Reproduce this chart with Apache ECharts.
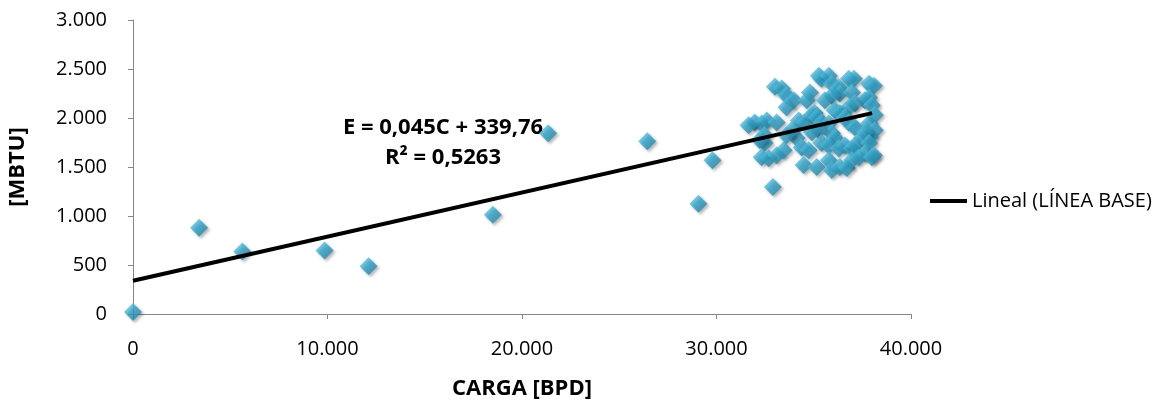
<!DOCTYPE html>
<html lang="es" style="height: 100%">
<head>
  <meta charset="UTF-8">
  <title>Carga vs MBTU</title>
  <script src="https://cdn.jsdelivr.net/npm/echarts@6/dist/echarts.min.js"></script>
</head>
<body style="height: 100%; margin: 0">
<div id="container" style="width: 1167px; height: 404px; background: #fff"></div>

<script type="text/javascript">
  // CARGA [BPD]
  var carga = [
    0, 3400, 5620, 9850, 12110, 18500, 21340, 26440, 29070, 29790, 32900,
    33000, 33350, 33600, 33970, 33600, 34800, 34640, 35260, 35400, 35770, 35930,
    36290, 36340, 36800, 37060, 36960, 37840, 38090, 37840, 37630, 35930, 35570,
    37110, 36800, 37990, 35050, 36080, 36340, 31960, 32320, 32580, 33090, 34230,
    34540, 34900, 35150, 35400, 35770, 36600, 36800, 37110, 37840, 38140, 38140,
    37890, 37630, 37470, 35930, 36080, 35260, 34900, 34120, 33860, 32470, 32470,
    32220, 34380, 34740, 35400, 35770, 36290, 36600, 36960, 37110, 37840, 38090,
    32320, 32680, 33090, 33450, 34480, 35150, 35770, 35930, 36340, 36700, 36960,
    37320, 37630, 37990, 31650, 33600
  ];
  // [MBTU]
  var mbtu = [
    20, 881, 638, 648, 486, 1013, 1844, 1763, 1125, 1570, 1297,
    2320, 2300, 2230, 2180, 2110, 2260, 2180, 2430, 2400, 2430, 2350,
    2310, 2250, 2400, 2400, 2260, 2350, 2330, 2210, 2180, 2230, 2180,
    2150, 2110, 2130, 2050, 2080, 2050, 1955, 1945, 1975, 1955, 1975,
    1955, 2030, 2005, 1955, 1945, 2005, 1955, 1905, 1945, 2030, 1875,
    1805, 1855, 1795, 1845, 1795, 1875, 1855, 1795, 1875, 1825, 1745,
    1775, 1700, 1670, 1745, 1720, 1690, 1720, 1690, 1720, 1745, 1620,
    1600, 1590, 1620, 1670, 1520, 1500, 1570, 1470, 1500, 1490, 1570,
    1600, 1640, 1600, 1925, 1825
  ];
  // Lineal (LÍNEA BASE): E = 0,045C + 339,76
  var trendX = [0, 38000];
  var trendY = [340, 2050];
  var equation = ['E = 0,045C + 339,76', 'R² = 0,5263'];

  var points = carga.map(function (c, i) { return [c, mbtu[i]]; });
  var trend = trendX.map(function (c, i) { return [c, trendY[i]]; });

  function miles(v) {
    return String(v).replace(/\B(?=(\d{3})+(?!\d))/g, '.');
  }

  var chart = echarts.init(document.getElementById('container'), null, { renderer: 'canvas' });
  var font = '"Open Sans", sans-serif';

  var option = {
    animation: false,
    textStyle: { fontFamily: font },
    grid: { left: 133, right: 256, top: 20, bottom: 90, outerBoundsMode: 'none', containLabel: false },
    legend: {
      data: ['Lineal (LÍNEA BASE)'],
      left: 925,
      top: 186,
      icon: 'rect',
      itemWidth: 37,
      itemHeight: 4,
      textStyle: { fontSize: 20, color: '#000', fontFamily: font }
    },
    xAxis: {
      type: 'value',
      min: 0,
      max: 40000,
      interval: 10000,
      name: 'CARGA [BPD]',
      nameLocation: 'middle',
      nameGap: 64,
      nameTextStyle: { fontSize: 22, fontWeight: 'bold', color: '#000', fontFamily: font },
      splitLine: { show: false },
      axisLine: { lineStyle: { color: '#868686' } },
      axisTick: { length: 5, lineStyle: { color: '#868686' } },
      axisLabel: { fontSize: 20, color: '#000', margin: 25, fontFamily: font, formatter: miles }
    },
    yAxis: {
      type: 'value',
      min: 0,
      max: 3000,
      interval: 500,
      name: '[MBTU]',
      nameLocation: 'middle',
      nameGap: 104,
      nameTextStyle: { fontSize: 22, fontWeight: 'bold', color: '#000', fontFamily: font },
      splitLine: { show: false },
      axisLine: { show: true, lineStyle: { color: '#868686' } },
      axisTick: { show: true, length: 5, lineStyle: { color: '#868686' } },
      axisLabel: { fontSize: 20, color: '#000', margin: 26, fontFamily: font, formatter: miles }
    },
    graphic: [
      {
        type: 'text',
        x: 443, y: 128,
        style: {
          text: equation[0],
          font: 'bold 22px ' + font,
          fill: '#000',
          align: 'center',
          verticalAlign: 'middle'
        }
      },
      {
        type: 'text',
        x: 443, y: 158,
        style: {
          text: equation[1],
          font: 'bold 22px ' + font,
          fill: '#000',
          align: 'center',
          verticalAlign: 'middle'
        }
      }
    ],
    series: [
      {
        name: 'LÍNEA BASE',
        type: 'scatter',
        symbol: 'diamond',
        symbolSize: [18, 18],
        data: points,
        itemStyle: {
          color: new echarts.graphic.LinearGradient(0, 0, 1, 1, [
            { offset: 0, color: '#74d6f0' },
            { offset: 0.45, color: '#32a5cb' },
            { offset: 1, color: '#1b7a9d' }
          ]),
          shadowBlur: 3,
          shadowOffsetX: 2,
          shadowOffsetY: 2,
          shadowColor: 'rgba(0,0,0,0.35)'
        },
        z: 2
      },
      {
        name: 'Lineal (LÍNEA BASE)',
        type: 'line',
        data: trend,
        symbol: 'none',
        lineStyle: { color: '#000', width: 4 },
        itemStyle: { color: '#000' },
        z: 3
      }
    ]
  };

  chart.setOption(option);
  window.addEventListener('resize', chart.resize);
</script>
</body>
</html>
